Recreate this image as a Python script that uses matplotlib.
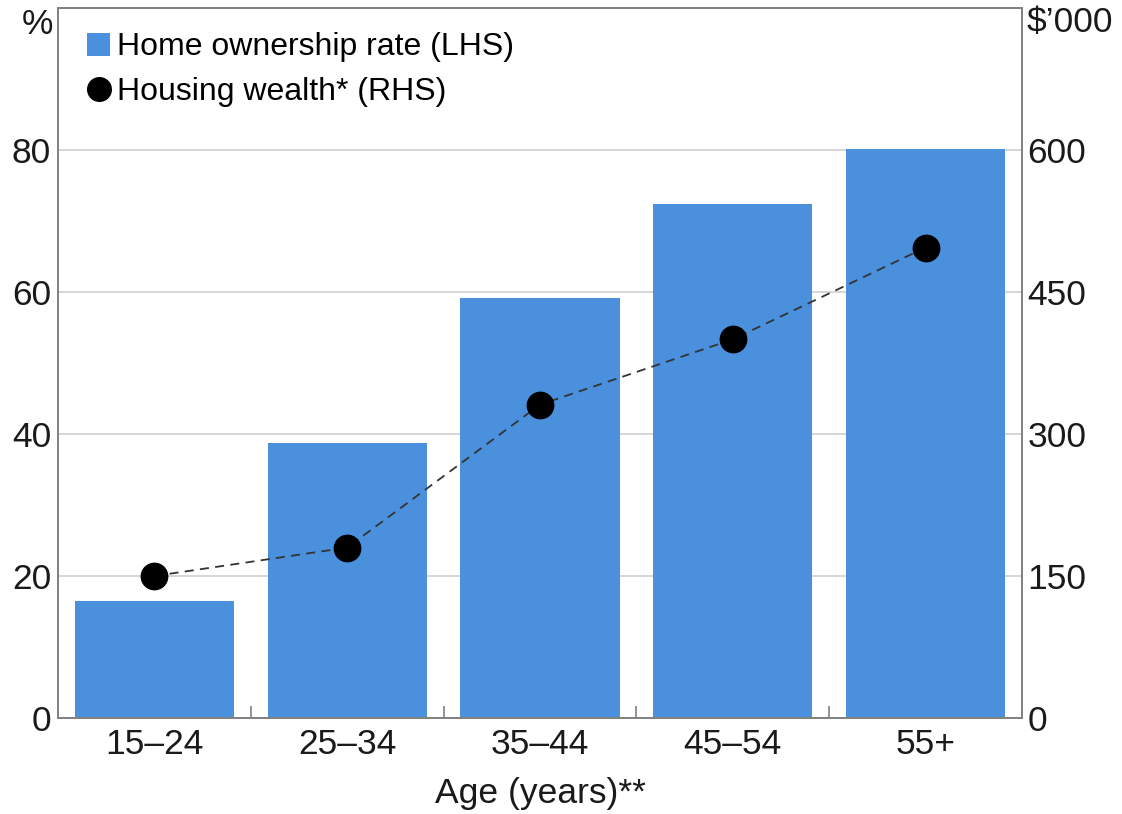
import matplotlib
matplotlib.use("Agg")
import matplotlib.pyplot as plt
import numpy as np
from matplotlib.lines import Line2D
from matplotlib.patches import Patch

# Data
age_groups = ["15–24", "25–34", "35–44", "45–54", "55+"]
ownership_rate = [16.5, 38.7, 59.2, 72.4, 80.1]     # %, left axis
housing_wealth = [150, 180, 331, 400, 497]          # $'000, right axis

left_ticks = [0, 20, 40, 60, 80]
right_ticks = [0, 150, 300, 450, 600]

plt.rcParams["font.family"] = ["Liberation Sans", "DejaVu Sans"]

BAR_COLOR = "#4a90dc"
SPINE_COLOR = "#808080"
TEXT_COLOR = "#1a1a1a"
TICK_SIZE = 25.5

fig = plt.figure(figsize=(11.22, 8.14), dpi=100)
ax = fig.add_axes([58 / 1122, 1 - 718 / 814, (1022 - 58) / 1122, (718 - 8) / 814])

x = np.arange(len(age_groups))
ax.bar(x, ownership_rate, width=0.825, color=BAR_COLOR, zorder=2)
ax.set_xlim(-0.5, len(age_groups) - 0.5)
ax.set_ylim(0, 100)
ax.set_yticks(left_ticks)
ax.yaxis.grid(True, color="#d0d0d0", linewidth=1.2, zorder=0)
ax.set_axisbelow(True)

ax.set_xticks(x)
ax.set_xticklabels(age_groups)
ax.set_xticks(np.arange(len(age_groups) - 1) + 0.5, minor=True)
ax.tick_params(axis="x", which="major", length=0, pad=7, labelsize=TICK_SIZE, colors=TEXT_COLOR)
ax.tick_params(axis="x", which="minor", direction="in", length=9, width=1.2, color=SPINE_COLOR)
ax.tick_params(axis="y", length=0, pad=5, labelsize=TICK_SIZE, colors=TEXT_COLOR)
ax.set_xlabel("Age (years)**", fontsize=TICK_SIZE, color=TEXT_COLOR, labelpad=12)

for s in ax.spines.values():
    s.set_color(SPINE_COLOR)
    s.set_linewidth(1.2)

ax2 = ax.twinx()
ax2.set_ylim(0, 750)
ax2.set_yticks(right_ticks)
ax2.tick_params(axis="y", length=0, pad=4, labelsize=TICK_SIZE, colors=TEXT_COLOR)
ax2.plot(x, housing_wealth, linestyle=(0, (5, 3.5)), color="#333333", linewidth=1.3,
         marker="o", markersize=19, markerfacecolor="black", markeredgecolor="black", zorder=3)
for s in ax2.spines.values():
    s.set_color(SPINE_COLOR)
    s.set_linewidth(1.2)

fig.text(22 / 1122, 1 - 25 / 814, "%", fontsize=TICK_SIZE, ha="left", va="center", color=TEXT_COLOR)
fig.text(1027 / 1122, 1 - 22 / 814, "$’000", fontsize=TICK_SIZE, ha="left", va="center", color=TEXT_COLOR)

handles = [
    Patch(facecolor=BAR_COLOR, edgecolor="none"),
    Line2D([], [], linestyle="none", marker="o", markersize=17, color="black"),
]
labels = ["Home ownership rate (LHS)", "Housing wealth* (RHS)"]
ax2.legend(handles, labels, loc="upper left", bbox_to_anchor=(0.007, 0.997), frameon=False,
           fontsize=23, handlelength=0.72, handleheight=0.72, handletextpad=0.22,
           labelspacing=0.45, borderaxespad=0.3)

fig.savefig("out.png", dpi=100)
